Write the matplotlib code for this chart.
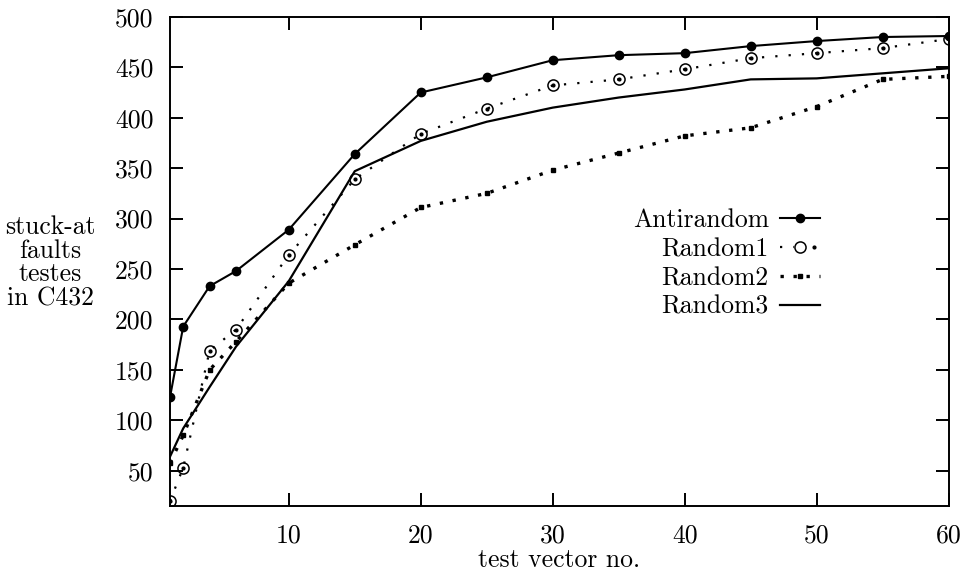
#!/usr/bin/env python3
"""
Stuck-at fault coverage of C432: antirandom vs random test vectors.
"""

import matplotlib
matplotlib.use('Agg')
import matplotlib.pyplot as plt
from matplotlib.legend_handler import HandlerTuple

# ============================================================================
# DATA
# ============================================================================
vectors = [1, 2, 4, 6, 10, 15, 20, 25, 30, 35, 40, 45, 50, 55, 60]

antirandom = [123, 193, 233, 248, 289, 364, 425, 440, 457, 462, 464, 471, 476, 480, 481]
random1 = [20, 53, 169, 190, 264, 339, 384, 409, 432, 438, 448, 459, 464, 469, 478]
random2 = [58, 85, 150, 178, 236, 274, 311, 325, 348, 365, 382, 390, 411, 438, 441]
random3 = [64, 92, 133, 173, 238, 347, 377, 396, 410, 420, 428, 438, 439, 444, 449]

series_names = ['Antirandom', 'Random1', 'Random2', 'Random3']

x_ticks = [10, 20, 30, 40, 50, 60]
y_ticks = [50, 100, 150, 200, 250, 300, 350, 400, 450, 500]

plt.rcParams['font.family'] = ['cmr10', 'DejaVu Serif']
plt.rcParams['mathtext.fontset'] = 'cm'
plt.rcParams['axes.unicode_minus'] = False

FS = 18.5


def make_figure():
    fig = plt.figure(figsize=(9.66, 5.81), dpi=100)
    ax = fig.add_axes([0.176, 0.129, 0.806, 0.842])

    # Antirandom: solid line with filled dots
    l_anti, = ax.plot(vectors, antirandom, '-', color='black', lw=1.5,
                      marker='o', ms=6, mfc='black', mec='black')

    # Random1: dotted line, open circles with a centre dot
    l_r1, = ax.plot(vectors, random1, color='black', lw=1.6,
                    linestyle=(0, (1, 5)), dash_capstyle='butt')
    m_r1, = ax.plot(vectors, random1, linestyle='none', marker='o', ms=8,
                    mfc='none', mec='black', mew=1.1)
    d_r1, = ax.plot(vectors, random1, linestyle='none', marker='o', ms=2,
                    mfc='black', mec='black')

    # Random2: heavy dotted line (square dots)
    l_r2, = ax.plot(vectors, random2, color='black', lw=2.4,
                    linestyle=(0, (1, 2.9)), dash_capstyle='butt',
                    marker='s', ms=3.2, mfc='black', mec='black')

    # Random3: plain solid line
    l_r3, = ax.plot(vectors, random3, '-', color='black', lw=1.6)

    ax.set_xlim(1, 60)
    ax.set_ylim(15, 500)
    ax.set_xticks(x_ticks)
    ax.set_yticks(y_ticks)
    ax.tick_params(direction='in', length=9.5, width=1.4, labelsize=FS,
                   top=True, right=True)
    ax.tick_params(axis='y', pad=12)
    ax.tick_params(axis='x', pad=13)
    for sp in ax.spines.values():
        sp.set_linewidth(1.4)

    ax.set_xlabel('test vector no.', fontsize=FS, labelpad=0)
    fig.text(0.052, 0.548, 'stuck-at\nfaults\ntestes\nin C432',
             fontsize=FS, ha='center', va='center', linespacing=1.0)

    ax.legend([l_anti, (l_r1, m_r1, d_r1), l_r2, l_r3], series_names,
              handler_map={tuple: HandlerTuple(ndivide=None)},
              loc='upper right', bbox_to_anchor=(0.835, 0.608),
              frameon=False, markerfirst=False, numpoints=1,
              fontsize=FS, handlelength=1.55, handletextpad=0.45,
              labelspacing=0.2, borderpad=0, borderaxespad=0)

    fig.savefig('out.png', dpi=100, facecolor='white')
    plt.close(fig)


if __name__ == '__main__':
    make_figure()
